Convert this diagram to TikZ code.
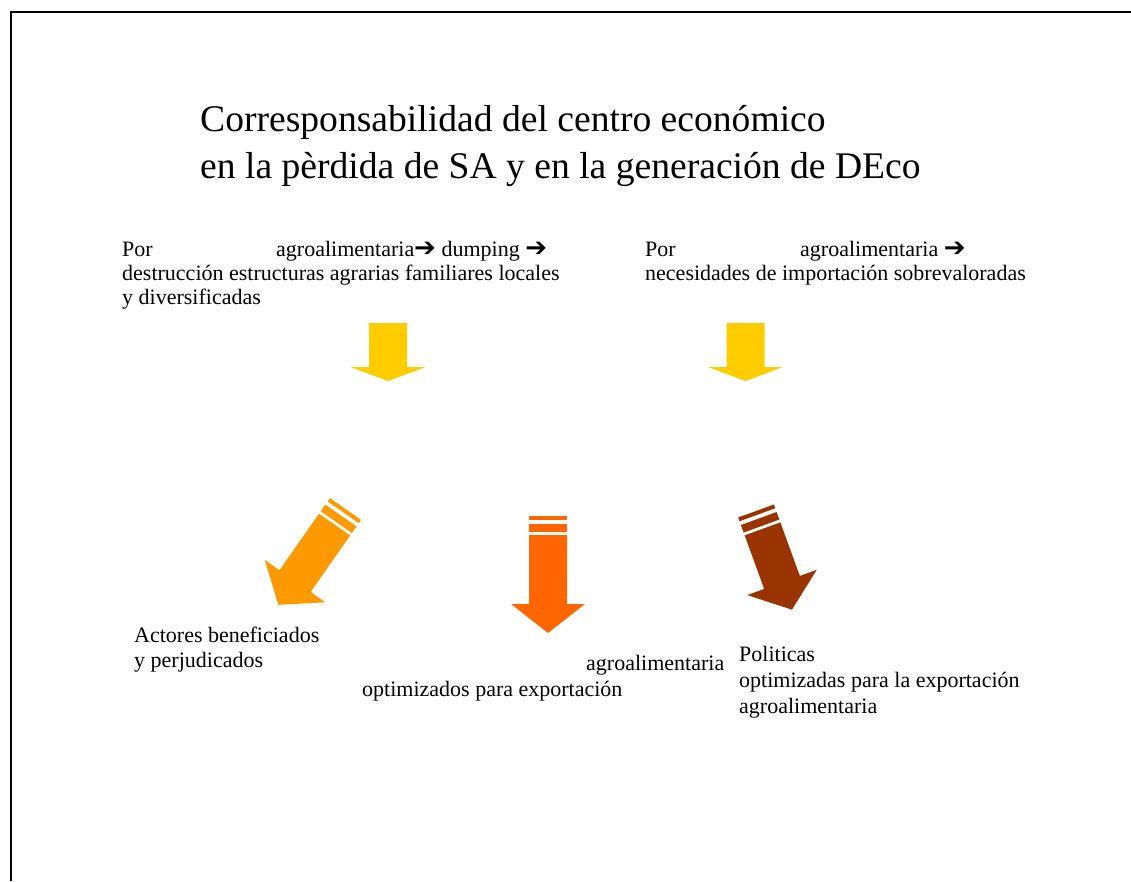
\documentclass[tikz,border=0pt]{standalone}
\usepackage{fontspec}
\setmainfont{Liberation Serif}
\newfontfamily\symfont{DejaVu Sans}
\newcommand{\harr}{{\symfont\bfseries\fontsize{26}{26}\selectfont ➔}}
\definecolor{arrYellow}{HTML}{FFCC00}
\definecolor{arrOrange}{HTML}{FF9900}
\definecolor{arrDeep}{HTML}{FF6600}
\definecolor{arrBrown}{HTML}{993300}
\tikzset{
  txt/.style={anchor=base west, inner sep=0pt, font=\fontsize{22}{25}\selectfont},
  ttl/.style={anchor=base west, inner sep=0pt, font=\fontsize{37.6}{47}\selectfont},
  pics/striparrow/.style 2 args={code={
    \fill[#1] (-19,0) rectangle (19,4);
    \fill[#1] (-19,8) rectangle (19,16);
    \fill[#1] (-19,19) -- (19,19) -- (19,#2) -- (37,#2) -- (0,#2+29) -- (-37,#2) -- (-19,#2) -- cycle;
  }},
  blockarrow/.pic={
    \fill[#1] (-19,0) -- (19,0) -- (19,44) -- (37.5,44) -- (0,58) -- (-37.5,44) -- (-19,44) -- cycle;
  }
}
\begin{document}
\begin{tikzpicture}[x=1pt,y=-1pt]
\useasboundingbox (0,0) rectangle (1131,881);
\draw[line width=2pt] (11,881) -- (11,12) -- (1131,12);

% title
\node[ttl] (t1) at (200,131) {Corresponsabilidad del centro económico};
\node[ttl] (t2) at (200,178) {en la pèrdida de SA y en la generación de DEco};

% top left text
\node[txt] (l1a) at (122,256) {Por};
\node[txt] (l1b) at (276,256) {agroalimentaria\harr{} dumping \harr};
\node[txt] (l2) at (122,280) {destrucción estructuras agrarias familiares locales};
\node[txt] (l3) at (122,304) {y diversificadas};

% top right text
\node[txt] (r1a) at (645,256) {Por};
\node[txt] (r1b) at (800,256) {agroalimentaria \harr};
\node[txt] (r2) at (645,280) {necesidades de importación sobrevaloradas};

% yellow arrows
\pic at (388,323) {blockarrow=arrYellow};
\pic at (745.5,323) {blockarrow=arrYellow};

% striped arrows
\pic[rotate=-35] at (345.5,509) {striparrow={arrOrange}{88}};
\pic at (548,516) {striparrow={arrDeep}{88}};
\pic[rotate=20] at (756,511) {striparrow={arrBrown}{76}};

% bottom texts
\node[txt] (b1) at (134,642) {Actores beneficiados};
\node[txt] (b2) at (134,667) {y perjudicados};
\node[txt] (c1) at (586,670) {agroalimentaria};
\node[txt] (c2) at (362,696) {optimizados para exportación};
\node[txt] (d1) at (739,661) {Politicas};
\node[txt] (d2) at (739,687) {optimizadas para la exportación};
\node[txt] (d3) at (739,713) {agroalimentaria};
\end{tikzpicture}
\end{document}
